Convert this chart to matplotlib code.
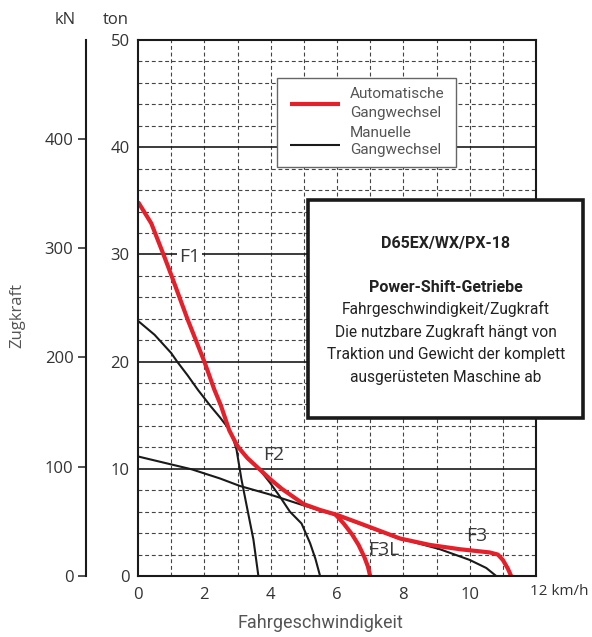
import matplotlib
matplotlib.use("Agg")
import matplotlib.pyplot as plt
from matplotlib.patches import Rectangle
from matplotlib.lines import Line2D

# ---------------- data ----------------
KN_PER_TON = 9.80665

x_ticks = [0, 2, 4, 6, 8, 10]
x_tick_labels = ["0", "2", "4", "6", "8", "10"]
ton_ticks = [0, 10, 20, 30, 40, 50]
kn_ticks = [0, 100, 200, 300, 400]

# automatic shift (red) main envelope F1-F2-F3
auto_v = [0, 0.4, 0.78, 1.0, 1.5, 2.0, 2.3, 2.5, 2.75, 3.0, 3.3, 3.65, 4.0,
          4.35, 5.0, 5.5, 6.0, 6.7, 7.9, 8.8, 9.7, 10.6, 10.85, 11.0, 11.15, 11.25]
auto_t = [34.9, 32.9, 29.9, 28.1, 23.9, 20.0, 17.4, 15.9, 13.6, 12.1, 11.0, 10.0, 9.0,
          8.1, 6.7, 6.15, 5.7, 4.9, 3.5, 2.9, 2.5, 2.2, 2.0, 1.5, 0.7, 0]
# automatic F3L branch
auto_f3l_v = [5.95, 6.2, 6.45, 6.65, 6.82, 6.93, 7.0]
auto_f3l_t = [5.75, 4.9, 3.9, 2.9, 1.8, 0.9, 0]

# manual shift (black) F1
man_f1_v = [0, 0.5, 1.0, 1.18, 1.5, 1.81, 2.2, 2.47, 2.77, 2.87, 2.97, 3.12, 3.28, 3.48, 3.63]
man_f1_t = [23.8, 22.5, 20.8, 20.0, 18.7, 17.35, 15.8, 14.8, 13.6, 12.8, 11.8, 9.0, 6.5, 3.4, 0]
# manual F2 (second curve ending near 5.5 km/h)
man_f2_v = [2.85, 3.3, 3.7, 3.98, 4.28, 4.58, 4.93, 5.19, 5.35, 5.49]
man_f2_t = [12.9, 10.95, 9.8, 8.7, 7.4, 6.0, 4.9, 3.05, 1.6, 0]
# manual F3 (from 0 km/h to ~10.8 km/h)
man_f3_v = [0, 1.62, 2.47, 3.07, 3.98, 4.98, 5.5, 6.0, 6.7, 7.9, 8.2, 9.1, 10.0, 10.5, 10.8]
man_f3_t = [11.15, 9.95, 9.1, 8.4, 7.6, 6.6, 6.1, 5.65, 4.85, 3.45, 3.25, 2.5, 1.5, 0.75, 0]

gear_labels = ["F1", "F2", "F3", "F3L"]
gear_label_v = [1.55, 4.08, 10.2, 7.4]
gear_label_t = [29.8, 11.3, 3.7, 2.4]

legend_labels = ["Automatische\nGangwechsel", "Manuelle\nGangwechsel"]
box_title = "D65EX/WX/PX-18"
box_subtitle = "Power-Shift-Getriebe"
box_lines = ["Fahrgeschwindigkeit/Zugkraft",
             "Die nutzbare Zugkraft hängt von",
             "Traktion und Gewicht der komplett",
             "ausgerüsteten Maschine ab"]

# ---------------- style ----------------
W, H = 592, 637
RED = "#e4202a"
BLK = "#1a1a1a"
GRID = "#444444"
TXT = "#333333"
GRAY = "#555555"
TICKFONT = ["Open Sans", "DejaVu Sans"]
NARROW = ["Roboto", "DejaVu Sans"]

def fx(px):
    return px / W

def fy(py):
    return 1 - py / H

fig = plt.figure(figsize=(W / 100, H / 100), dpi=100)
fig.patch.set_facecolor("white")

L, R, T, B = 138, 536, 40, 576
ax = fig.add_axes([fx(L), fy(B), (R - L) / W, (B - T) / H])
ax.set_xlim(0, 12)
ax.set_ylim(0, 50)

# grid
for v in range(1, 12):
    ax.axvline(v, color=GRID, lw=0.8, dashes=(3.5, 2.5), zorder=1)
for t in range(2, 50, 2):
    if t % 10 == 0:
        ax.axhline(t, color=BLK, lw=1.2, zorder=1)
    else:
        ax.axhline(t, color=GRID, lw=0.8, dashes=(3.5, 2.5), zorder=1)

# curves
ax.plot(man_f1_v, man_f1_t, color=BLK, lw=1.5, zorder=3, solid_capstyle="butt")
ax.plot(man_f2_v, man_f2_t, color=BLK, lw=1.5, zorder=3, solid_capstyle="butt")
ax.plot(man_f3_v, man_f3_t, color=BLK, lw=1.5, zorder=3, solid_capstyle="butt")
ax.plot(auto_v, auto_t, color=RED, lw=3.0, zorder=4, solid_capstyle="butt")
ax.plot(auto_f3l_v, auto_f3l_t, color=RED, lw=3.0, zorder=4, solid_capstyle="butt")

for lab, v, t in zip(gear_labels, gear_label_v, gear_label_t):
    ax.text(v, t, lab, ha="center", va="center", fontsize=14, color="#3a3a3a",
            family=TICKFONT, zorder=5,
            bbox=dict(facecolor="white", edgecolor="none", pad=1.5) if lab == "F1" else None)

for s in ax.spines.values():
    s.set_linewidth(1.5)
    s.set_color(BLK)
    s.set_zorder(6)

ax.set_xticks(x_ticks)
ax.set_xticklabels(x_tick_labels)
ax.set_yticks(ton_ticks)
ax.tick_params(axis="both", length=0, labelsize=12, colors=TXT)
ax.tick_params(axis="x", pad=8)
ax.tick_params(axis="y", pad=6)
for lbl in ax.get_xticklabels() + ax.get_yticklabels():
    lbl.set_family(TICKFONT)

ax.annotate("12 km/h", xy=(12, 0), xycoords="data", xytext=(-6, -8),
            textcoords="offset pixels", ha="left", va="top", fontsize=11,
            color=TXT, family=TICKFONT, annotation_clip=False)

# kN axis
sec = ax.secondary_yaxis(-(L - 86) / (R - L),
                         functions=(lambda t: t * KN_PER_TON, lambda k: k / KN_PER_TON))
sec.set_yticks(kn_ticks)
sec.tick_params(axis="y", length=6, width=1.2, pad=3, labelsize=12, colors=TXT)
sec.spines["left"].set_linewidth(1.5)
sec.spines["left"].set_color(BLK)
for lbl in sec.get_yticklabels():
    lbl.set_family(TICKFONT)

fig.text(fx(65.5), fy(20), "kN", ha="center", va="center", fontsize=12, color=TXT, family=TICKFONT)
fig.text(fx(115.5), fy(20), "ton", ha="center", va="center", fontsize=12, color=TXT, family=TICKFONT)
fig.text(fx(17), fy(316), "Zugkraft", ha="center", va="center", rotation=90,
         fontsize=12, color=GRAY, family=TICKFONT)
fig.text(fx(320), fy(623), "Fahrgeschwindigkeit", ha="center", va="center",
         fontsize=13, color=GRAY, family=NARROW)

# legend box
fig.add_artist(Rectangle((fx(277), fy(167)), fx(456) - fx(277), fy(78) - fy(167),
                         transform=fig.transFigure, facecolor="white",
                         edgecolor="#666666", lw=1.0, zorder=7))
fig.add_artist(Line2D([fx(290), fx(340)], [fy(104), fy(104)], transform=fig.transFigure,
                      color=RED, lw=3.0, zorder=8, solid_capstyle="butt"))
fig.add_artist(Line2D([fx(290), fx(340)], [fy(145), fy(145)], transform=fig.transFigure,
                      color=BLK, lw=1.5, zorder=8, solid_capstyle="butt"))
leg_base = [(98.3, 116.7), (136.7, 154.3)]
for lab, (b1, b2) in zip(legend_labels, leg_base):
    l1, l2 = lab.split("\n")
    fig.text(fx(350), fy(b1), l1, ha="left", va="baseline", fontsize=11,
             color=GRAY, family=NARROW, zorder=9)
    fig.text(fx(350), fy(b2), l2, ha="left", va="baseline", fontsize=11,
             color=GRAY, family=NARROW, zorder=9)

# info box
fig.add_artist(Rectangle((fx(308), fy(418)), fx(583) - fx(308), fy(200) - fy(418),
                         transform=fig.transFigure, facecolor="white",
                         edgecolor=BLK, lw=2.6, zorder=7))
cx = fx(445.8)
fig.text(cx, fy(248.3), box_title, ha="center", va="baseline", fontsize=11.5,
         fontweight="bold", color="#222222", family=NARROW, zorder=9)
fig.text(cx, fy(291.7), box_subtitle, ha="center", va="baseline", fontsize=11.5,
         fontweight="bold", color="#222222", family=NARROW, zorder=9)
for line, b in zip(box_lines, [314.0, 336.7, 359.5, 381.7]):
    fig.text(cx, fy(b), line, ha="center", va="baseline", fontsize=11.2,
             color="#222222", family=NARROW, zorder=9)

fig.savefig("out.png", dpi=100, facecolor="white")
